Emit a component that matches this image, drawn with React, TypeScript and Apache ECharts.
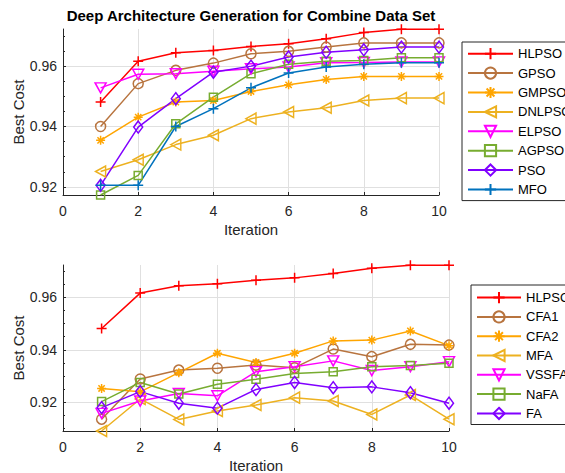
import React, { useEffect, useRef } from "react";
import * as echarts from "echarts";

const iterations = [1, 2, 3, 4, 5, 6, 7, 8, 9, 10];

// Top plot
const topHLPSO = [0.9481, 0.9616, 0.9644, 0.9652, 0.9665, 0.9674, 0.9691, 0.9711, 0.9722, 0.9722];
const topGPSO = [0.9400, 0.9542, 0.9586, 0.9610, 0.9641, 0.9649, 0.9663, 0.9677, 0.9677, 0.9677];
const topGMPSO = [0.9354, 0.9431, 0.9481, 0.9486, 0.9516, 0.9538, 0.9556, 0.9566, 0.9566, 0.9566];
const topDNLPSO = [0.9251, 0.9290, 0.9340, 0.9371, 0.9426, 0.9448, 0.9462, 0.9486, 0.9494, 0.9494];
const topELPSO = [0.9528, 0.9573, 0.9575, 0.9583, 0.9591, 0.9597, 0.9611, 0.9612, 0.9614, 0.9614];
const topAGPSO = [0.9173, 0.9238, 0.9409, 0.9497, 0.9575, 0.9606, 0.9616, 0.9619, 0.9628, 0.9628];
const topPSO = [0.9205, 0.9398, 0.9492, 0.9580, 0.9600, 0.9630, 0.9646, 0.9654, 0.9663, 0.9663];
const topMFO = [0.9205, 0.9205, 0.9400, 0.9459, 0.9528, 0.9577, 0.9597, 0.9606, 0.9611, 0.9611];

// Bottom plot
const botHLPSO = topHLPSO;
const botCFA1 = [0.9136, 0.9289, 0.9323, 0.9330, 0.9342, 0.9332, 0.9403, 0.9374, 0.9421, 0.9418];
const botCFA2 = [0.9253, 0.9240, 0.9313, 0.9387, 0.9352, 0.9387, 0.9434, 0.9437, 0.9472, 0.9416];
const botMFA = [0.9091, 0.9213, 0.9135, 0.9167, 0.9190, 0.9218, 0.9205, 0.9154, 0.9228, 0.9136];
const botVSSFA = [0.9158, 0.9205, 0.9234, 0.9225, 0.9317, 0.9336, 0.9358, 0.9321, 0.9336, 0.9355];
const botNaFA = [0.9203, 0.9276, 0.9232, 0.9269, 0.9288, 0.9310, 0.9317, 0.9336, 0.9340, 0.9349];
const botFA = [0.9180, 0.9241, 0.9197, 0.9178, 0.9249, 0.9276, 0.9256, 0.9259, 0.9237, 0.9197];

const yMajorTicks = [0.92, 0.94, 0.96];
const topMinorTicks = [0.92, 0.925, 0.93, 0.935, 0.94, 0.945, 0.95, 0.955, 0.96, 0.965, 0.97];
const botMinorTicks = [0.91, 0.915, 0.92, 0.925, 0.93, 0.935, 0.94, 0.945, 0.95, 0.955, 0.96, 0.965, 0.97];

const FONT = "'Liberation Sans', Arial, Helvetica, sans-serif";
const AX = "#262626";
const GRIDC = "#e0e0e0";

const SYM = {
  plus: { symbol: "path://M5,0L5,10M0,5L10,5", size: 10 },
  circle: { symbol: "circle", size: 10 },
  star: { symbol: "path://M5,0L5,10M0,5L10,5M1.5,1.5L8.5,8.5M1.5,8.5L8.5,1.5", size: 9 },
  left: { symbol: "path://M0,5L9,0L9,10Z", size: [10, 11] },
  down: { symbol: "path://M0,0L10,0L5,9Z", size: [11, 10] },
  square: { symbol: "rect", size: 8 },
  diamond: { symbol: "diamond", size: [9, 12] },
};

function mkSeries(name: string, data: number[], color: string, sym: any, xi: number, yi: number) {
  return {
    type: "line",
    name,
    xAxisIndex: xi,
    yAxisIndex: yi,
    data: iterations.map((x, i) => [x, data[i]]),
    symbol: sym.symbol,
    symbolSize: sym.size,
    showSymbol: true,
    clip: false,
    lineStyle: { color, width: 1.5 },
    itemStyle: { color: "none", borderColor: color, borderWidth: 1.5 },
    emphasis: { disabled: true },
  };
}

export default function App() {
  const ref = useRef<HTMLDivElement>(null);
  useEffect(() => {
    document.body.style.margin = "0";
    const chart = echarts.init(ref.current!, null, { renderer: "svg" });
    const xAxisBase = (gridIndex: number) => ({
      type: "value",
      gridIndex,
      min: 0,
      max: 10,
      interval: 2,
      name: "Iteration",
      nameLocation: "middle",
      nameGap: 27,
      nameMoveOverlap: false,
      nameTextStyle: { fontFamily: FONT, fontSize: 15, color: AX },
      axisLine: { show: true, onZero: false, lineStyle: { color: AX, width: 1 } },
      axisTick: { show: true, inside: true, length: 3, lineStyle: { color: AX } },
      axisLabel: { fontFamily: FONT, fontSize: 14, color: AX, margin: 9 },
      splitLine: { show: true, lineStyle: { color: GRIDC, width: 1 } },
    });
    const yAxisBase = (gridIndex: number, min: number, max: number) => ({
      type: "value",
      gridIndex,
      min,
      max,
      name: "Best Cost",
      nameLocation: "middle",
      nameGap: 37,
      nameMoveOverlap: false,
      nameTextStyle: { fontFamily: FONT, fontSize: 15, color: AX },
      axisLine: { show: true, onZero: false, lineStyle: { color: AX, width: 1 } },
      axisTick: { show: true, inside: true, length: 3, customValues: yMajorTicks, lineStyle: { color: AX } },
      axisLabel: {
        fontFamily: FONT,
        fontSize: 14,
        color: AX,
        margin: 6,
        customValues: yMajorTicks,
        formatter: (v: number) => v.toFixed(2),
      },
      splitLine: { show: true, lineStyle: { color: GRIDC, width: 1 } },
    });
    const yMinor = (gridIndex: number, min: number, max: number, ticks: number[]) => ({
      type: "value",
      gridIndex,
      min,
      max,
      position: "left",
      axisLine: { show: false, onZero: false },
      axisTick: { show: true, inside: true, length: 2, customValues: ticks, lineStyle: { color: AX } },
      axisLabel: { show: false },
      splitLine: { show: false },
    });
    const legendBase = {
      orient: "vertical",
      itemWidth: 45,
      itemHeight: 14,
      itemGap: 3.2,
      borderColor: AX,
      borderWidth: 1,
      borderRadius: 0,
      backgroundColor: "#fff",
      textStyle: { fontFamily: FONT, fontSize: 13, color: "#000" },
      selectedMode: false,
    };
    chart.setOption({
      animation: false,
      backgroundColor: "#fff",
      title: {
        text: "Deep Architecture Generation for Combine Data Set",
        left: 251,
        top: 8,
        padding: 0,
        textAlign: "center",
        textStyle: { fontFamily: FONT, fontSize: 15, fontWeight: "bold", color: "#000" },
      },
      grid: [
        { left: 63, top: 29, width: 376, height: 166, outerBoundsMode: "none", containLabel: false },
        { left: 63, top: 265, width: 386, height: 166, outerBoundsMode: "none", containLabel: false },
      ],
      xAxis: [xAxisBase(0), xAxisBase(1)],
      yAxis: [
        yAxisBase(0, 0.9173, 0.9723),
        yMinor(0, 0.9173, 0.9723, topMinorTicks),
        yAxisBase(1, 0.9091, 0.9723),
        yMinor(1, 0.9091, 0.9723, botMinorTicks),
      ],
      legend: [
        {
          ...legendBase,
          left: 462,
          top: 42,
          padding: [3.6, 5, 3, 5],
          data: ["HLPSO", "GPSO", "GMPSO", "DNLPSO", "ELPSO", "AGPSO", "PSO", "MFO"],
        },
        {
          ...legendBase,
          left: 471,
          top: 285,
          itemWidth: 44,
          itemGap: 3.1,
          padding: [4.5, 5, 3, 5],
          data: ["HLPSO", "CFA1", "CFA2", "MFA", "VSSFA", "NaFA", "FA"],
        },
      ],
      series: [
        mkSeries("HLPSO", topHLPSO, "#ff0000", SYM.plus, 0, 0),
        mkSeries("GPSO", topGPSO, "#b8743f", SYM.circle, 0, 0),
        mkSeries("GMPSO", topGMPSO, "#ffa500", SYM.star, 0, 0),
        mkSeries("DNLPSO", topDNLPSO, "#edb120", SYM.left, 0, 0),
        mkSeries("ELPSO", topELPSO, "#ff00ff", SYM.down, 0, 0),
        mkSeries("AGPSO", topAGPSO, "#77ac30", SYM.square, 0, 0),
        mkSeries("PSO", topPSO, "#8000ff", SYM.diamond, 0, 0),
        mkSeries("MFO", topMFO, "#0072bd", SYM.plus, 0, 0),
        mkSeries("HLPSO", botHLPSO, "#ff0000", SYM.plus, 1, 2),
        mkSeries("CFA1", botCFA1, "#b8743f", SYM.circle, 1, 2),
        mkSeries("CFA2", botCFA2, "#ffa500", SYM.star, 1, 2),
        mkSeries("MFA", botMFA, "#edb120", SYM.left, 1, 2),
        mkSeries("VSSFA", botVSSFA, "#ff00ff", SYM.down, 1, 2),
        mkSeries("NaFA", botNaFA, "#77ac30", SYM.square, 1, 2),
        mkSeries("FA", botFA, "#8000ff", SYM.diamond, 1, 2),
      ],
    });
    return () => chart.dispose();
  }, []);
  return (
    <div
      ref={ref}
      style={{ position: "absolute", left: 0, top: 0, width: 565, height: 473 }}
    />
  );
}
